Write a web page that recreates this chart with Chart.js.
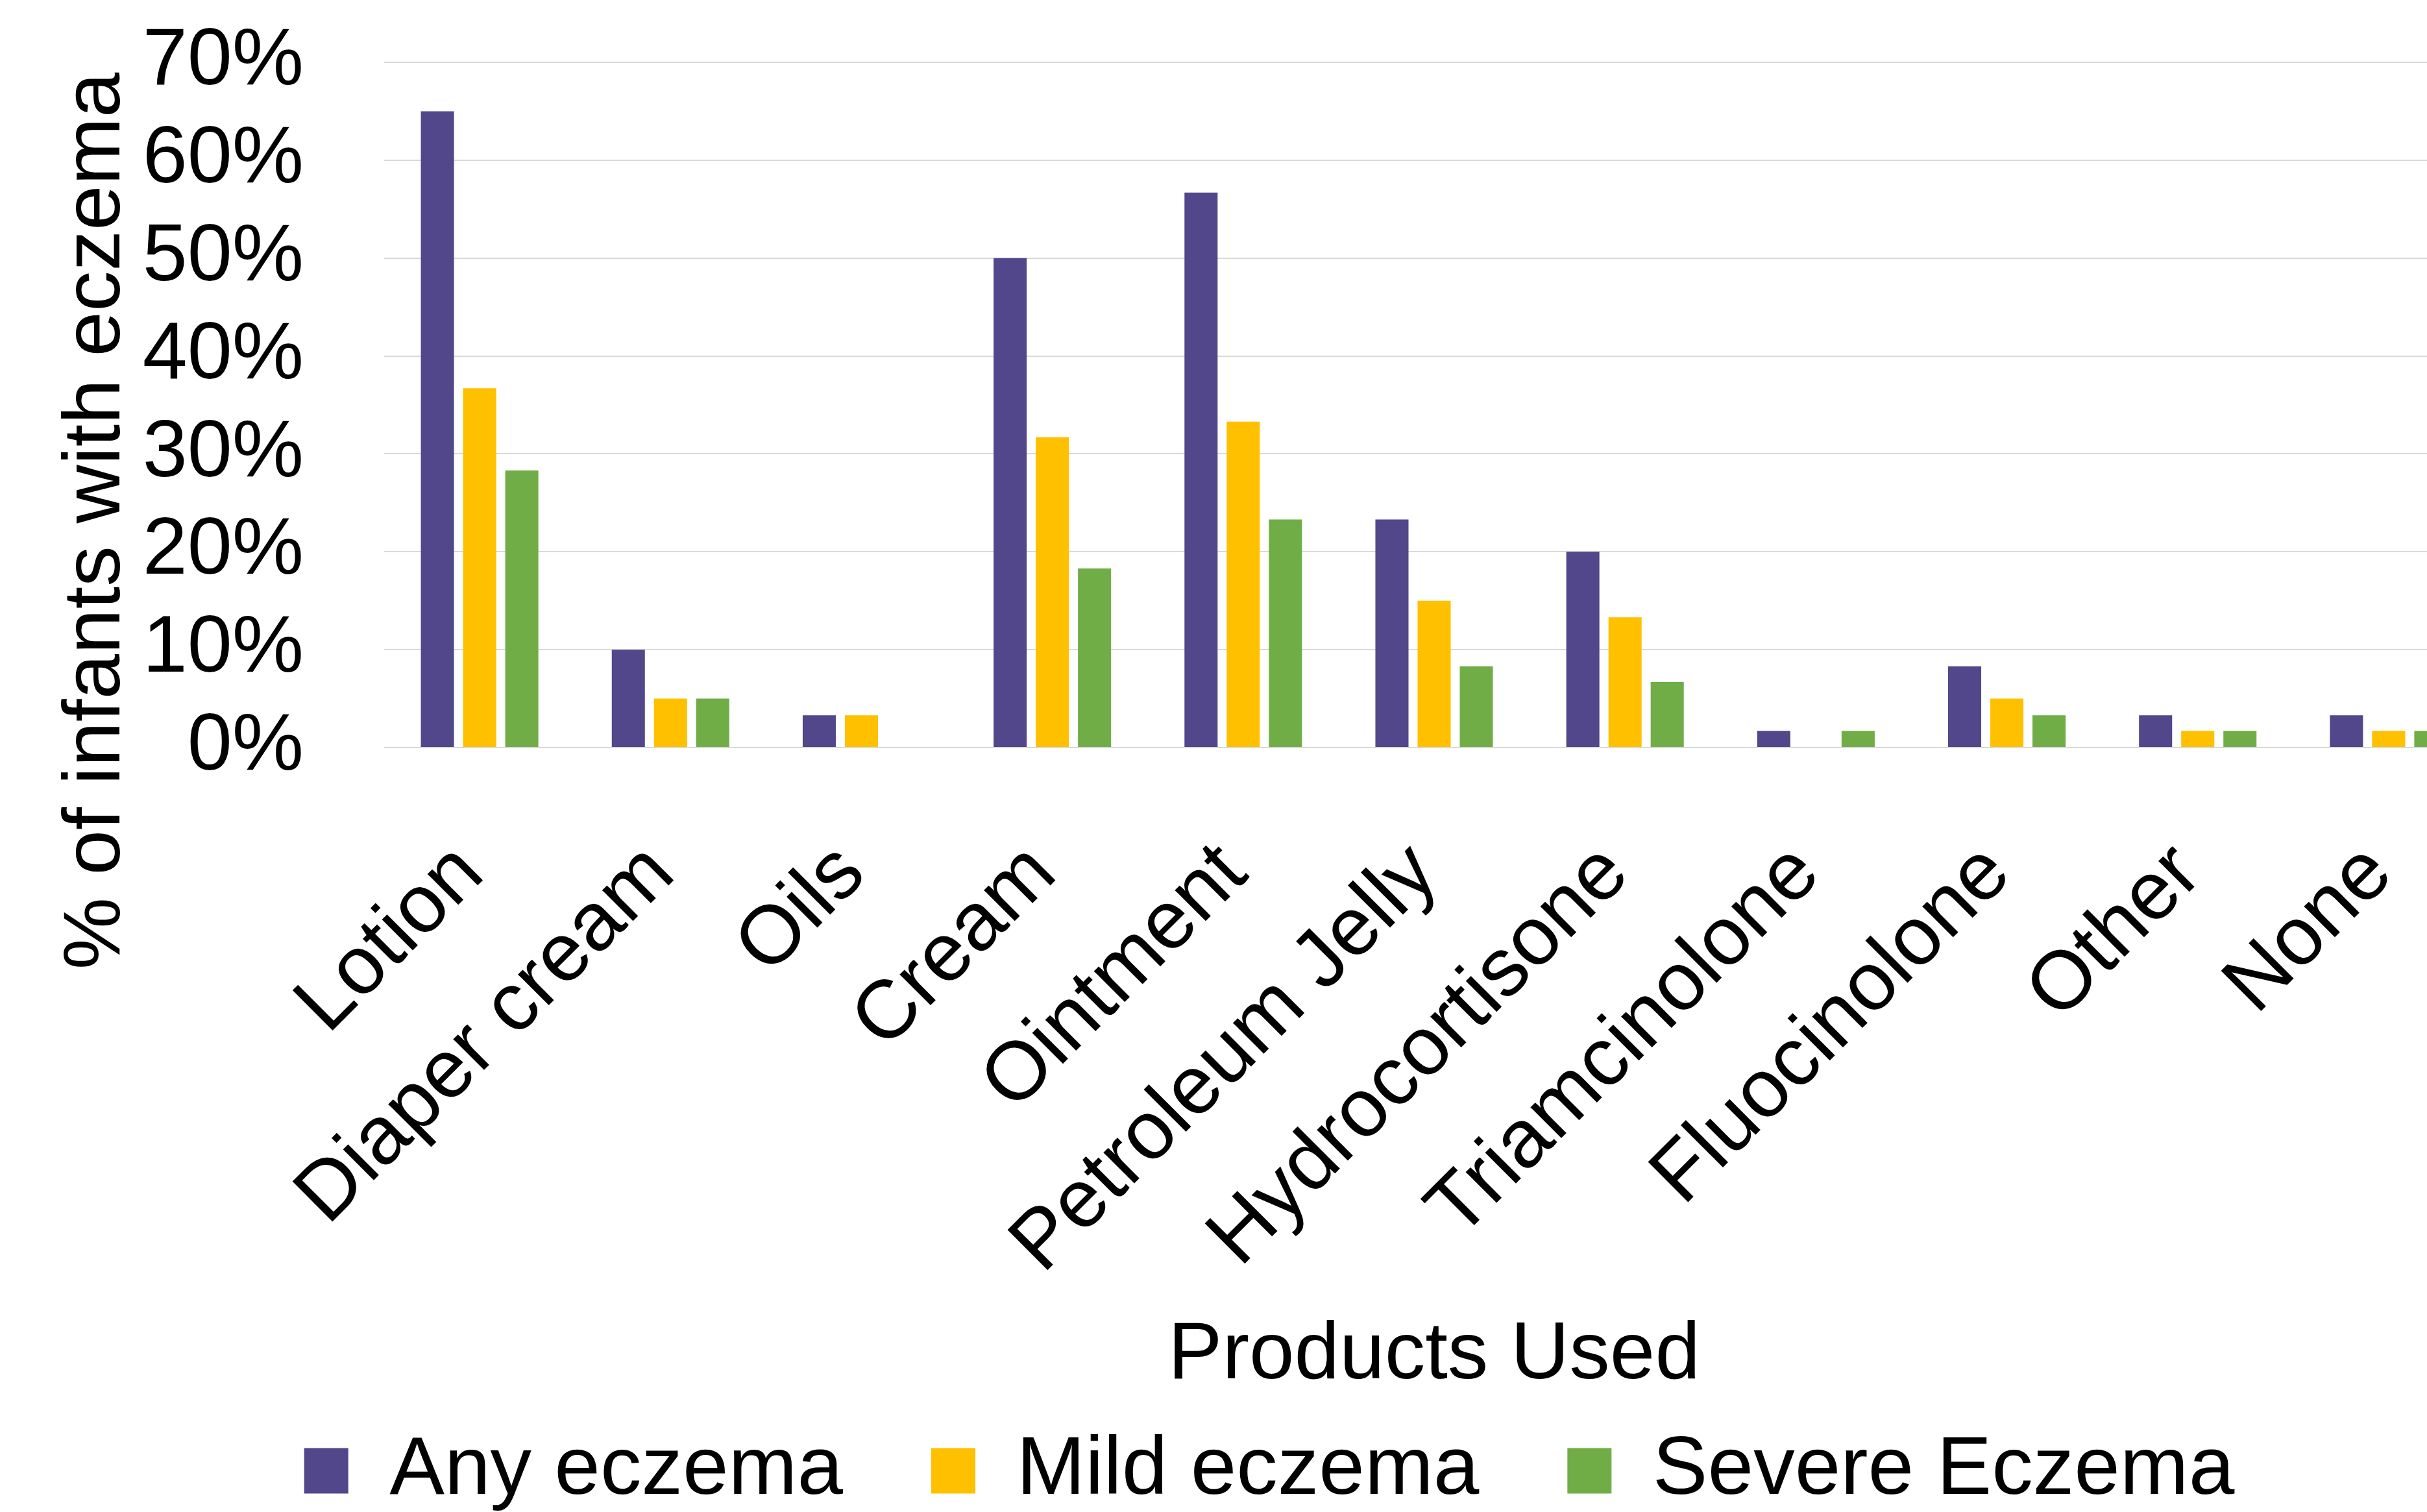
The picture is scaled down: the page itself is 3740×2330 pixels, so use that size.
<!DOCTYPE html>
<html>
<head>
<meta charset="utf-8">
<script src="https://cdn.jsdelivr.net/npm/chart.js@4/dist/chart.umd.min.js"></script>
<style>
  html, body { margin: 0; padding: 0; background: #ffffff; overflow: hidden; }
  #wrap { width: 3828px; height: 2330px; }
</style>
</head>
<body>
<div id="wrap"><canvas id="chart" width="3828" height="2330"></canvas></div>
<script>
// Products used on infants with eczema, share of infants per group
const categories = ['Lotion', 'Diaper cream', 'Oils', 'Cream', 'Ointment', 'Petroleum Jelly',
  'Hydrocortisone', 'Triamcinolone', 'Fluocinolone', 'Other', 'None'];
const anyEczema    = [65.0, 10.0, 3.3, 50.0, 56.7, 23.3, 20.0, 1.7, 8.3, 3.3, 3.3];
const mildEczema   = [36.7, 5.0, 3.3, 31.7, 33.3, 15.0, 13.3, 0, 5.0, 1.7, 1.7];
const severeEczema = [28.3, 5.0, 0, 18.3, 23.3, 8.3, 6.7, 1.7, 3.3, 1.7, 1.7];
const seriesNames  = ['Any eczema', 'Mild eczema', 'Severe Eczema'];
const yTitle = '% of infants with eczema';
const xTitle = 'Products Used';

const FONT = '"Liberation Sans", Arial, Helvetica, sans-serif';
Chart.defaults.font.family = FONT;
Chart.defaults.color = '#000000';

// vertical axis title, drawn beside the tick labels
const yTitlePlugin = {
  id: 'yTitle',
  afterDraw(chart) {
    const ctx = chart.ctx;
    const area = chart.chartArea;
    ctx.save();
    ctx.font = '125px ' + FONT;
    ctx.fillStyle = '#000000';
    ctx.textAlign = 'center';
    ctx.textBaseline = 'alphabetic';
    ctx.translate(184, area.bottom - 349);
    ctx.rotate(-Math.PI / 2);
    ctx.fillText(yTitle, 0, 0);
    ctx.restore();
  }
};

new Chart(document.getElementById('chart'), {
  type: 'bar',
  data: {
    labels: categories,
    datasets: [
      { label: seriesNames[0], data: anyEczema, backgroundColor: '#51478A' },
      { label: seriesNames[1], data: mildEczema, backgroundColor: '#FFC000' },
      { label: seriesNames[2], data: severeEczema, backgroundColor: '#70AD47' }
    ]
  },
  options: {
    responsive: false,
    devicePixelRatio: 1,
    animation: false,
    datasets: { bar: { categoryPercentage: 0.663, barPercentage: 0.785 } },
    layout: { padding: { left: 84, top: 96, right: 0, bottom: -10 } },
    plugins: {
      tooltip: { enabled: false },
      legend: {
        position: 'bottom',
        labels: {
          font: { size: 127 },
          color: '#000000',
          boxWidth: 68,
          boxHeight: 70,
          padding: 136
        }
      }
    },
    scales: {
      x: {
        grid: { display: false, drawTicks: false },
        border: { display: false },
        ticks: {
          font: { size: 127 },
          color: '#000000',
          minRotation: 45,
          maxRotation: 45,
          autoSkip: false,
          padding: 120,
          labelOffset: -14
        },
        title: {
          display: true,
          text: xTitle,
          font: { size: 125 },
          color: '#000000',
          padding: { top: 0, bottom: -98 }
        },
        afterFit(scale) {
          scale.height = 915;
          scale.paddingLeft = 0;
          scale.paddingRight = 0;
        }
      },
      y: {
        min: 0,
        max: 70,
        grid: { color: '#D9D9D9', lineWidth: 2, drawTicks: false },
        border: { display: false },
        ticks: {
          font: { size: 124 },
          color: '#000000',
          padding: 124,
          stepSize: 10,
          autoSkip: false,
          callback: v => v + '%'
        },
        afterFit(scale) {
          scale.width = 508;
          scale.paddingTop = 0;
          scale.paddingBottom = 0;
        }
      }
    }
  },
  plugins: [yTitlePlugin]
});
</script>
</body>
</html>
